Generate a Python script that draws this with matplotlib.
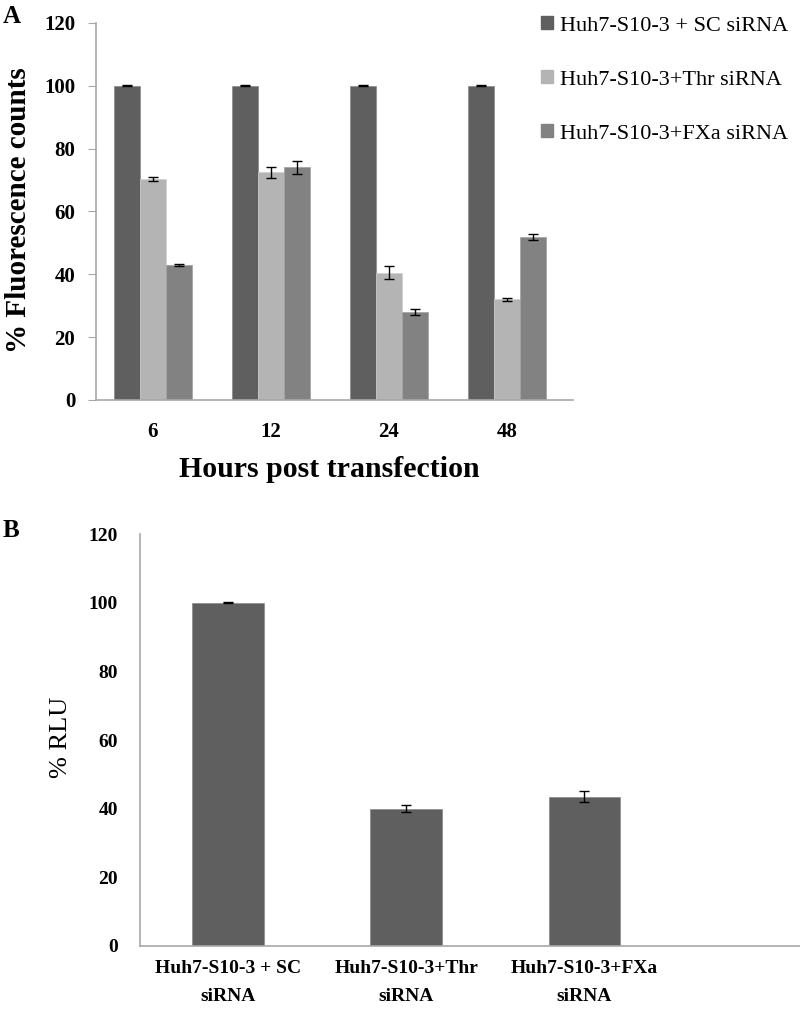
# Panel A: % fluorescence counts over time; panel B: % RLU
import numpy as np
import matplotlib.pyplot as plt
from matplotlib.patches import Patch

plt.rcParams['font.family'] = ['Liberation Serif', 'DejaVu Serif']

# data, panel A
hours = ['6', '12', '24', '48']
sc_vals = [100, 100, 100, 100]
sc_err = [0.2, 0.2, 0.2, 0.2]
thr_vals = [70.3, 72.5, 40.5, 32.0]
thr_err = [0.7, 1.8, 2.1, 0.4]
fxa_vals = [43.0, 74.0, 28.0, 51.8]
fxa_err = [0.3, 2.2, 1.0, 1.0]
series_names = ['Huh7-S10-3 + SC siRNA', 'Huh7-S10-3+Thr siRNA', 'Huh7-S10-3+FXa siRNA']

# data, panel B
b_labels = ['Huh7-S10-3 + SC\nsiRNA', 'Huh7-S10-3+Thr\nsiRNA', 'Huh7-S10-3+FXa\nsiRNA']
b_vals = [100, 40.0, 43.5]
b_err = [0.2, 1.0, 1.5]

c_dark = '#5f5f5f'
c_light = '#b4b4b4'
c_mid = '#828282'
axis_grey = '#a8a8a8'

fig = plt.figure(figsize=(8, 10.11), dpi=100)

# ---- panel A
ax1 = fig.add_axes([0.12, 0.6044, 0.596, 0.3729])
x = np.arange(len(hours))
w = 0.22
ek = dict(ecolor='black', elinewidth=1, capsize=3.5, capthick=1)
ax1.bar(x - w, sc_vals, w, yerr=sc_err, color=c_dark, edgecolor='#8a8a8a', linewidth=0.5, error_kw=ek)
ax1.bar(x, thr_vals, w, yerr=thr_err, color=c_light, edgecolor='#cfcfcf', linewidth=0.5, error_kw=ek)
ax1.bar(x + w, fxa_vals, w, yerr=fxa_err, color=c_mid, edgecolor='#a0a0a0', linewidth=0.5, error_kw=ek)
ax1.set_xlim(-0.48, 3.56)
ax1.set_ylim(0, 120)
ax1.set_yticks(np.arange(0, 121, 20))
ax1.set_xticks(x)
ax1.set_xticklabels(hours)
for s in ['top', 'right']:
    ax1.spines[s].set_visible(False)
for s in ['left', 'bottom']:
    ax1.spines[s].set_color(axis_grey)
    ax1.spines[s].set_linewidth(1.2)
ax1.tick_params(axis='y', length=6, color=axis_grey, pad=9, labelsize=15)
ax1.tick_params(axis='x', length=0, pad=16, labelsize=15)
for t in ax1.get_xticklabels() + ax1.get_yticklabels():
    t.set_fontweight('bold')
ax1.set_xlabel('Hours post transfection', fontsize=21.5, fontweight='bold')
ax1.xaxis.set_label_coords(0.49, -0.148)
ax1.set_ylabel('% Fluorescence counts', fontsize=21, fontweight='bold')
ax1.yaxis.set_label_coords(-0.134, 0.504)

handles = [Patch(color=c_dark), Patch(color=c_light), Patch(color=c_mid)]
fig.legend(handles, series_names, loc='upper left', bbox_to_anchor=(0.665, 0.993),
           frameon=False, fontsize=16, handlelength=0.55, handleheight=0.55,
           handletextpad=0.3, labelspacing=1.55, borderaxespad=0)

fig.text(0.003, 0.995, 'A', fontsize=18, fontweight='bold', va='top', ha='left')

# ---- panel B
ax2 = fig.add_axes([0.175, 0.0643, 0.825, 0.4075])
xb = np.arange(len(b_labels))
ax2.bar(xb, b_vals, 0.4, yerr=b_err, color=c_dark, edgecolor='#8a8a8a', linewidth=0.5, error_kw=ek)
ax2.set_xlim(-0.493, 3.21)
ax2.set_ylim(0, 120)
ax2.set_yticks(np.arange(0, 121, 20))
ax2.set_xticks(xb)
ax2.set_xticklabels(b_labels, linespacing=1.85)
for s in ['top', 'right']:
    ax2.spines[s].set_visible(False)
for s in ['left', 'bottom']:
    ax2.spines[s].set_color(axis_grey)
    ax2.spines[s].set_linewidth(1.2)
ax2.tick_params(axis='y', length=0, pad=16, labelsize=14)
ax2.tick_params(axis='x', length=0, pad=10, labelsize=14)
for t in ax2.get_xticklabels() + ax2.get_yticklabels():
    t.set_fontweight('bold')
ax2.set_ylabel('% RLU', fontsize=19)
ax2.yaxis.set_label_coords(-0.103, 0.507)

fig.text(0.003, 0.487, 'B', fontsize=18, fontweight='bold', va='top', ha='left')

fig.savefig('out.png', dpi=100)
